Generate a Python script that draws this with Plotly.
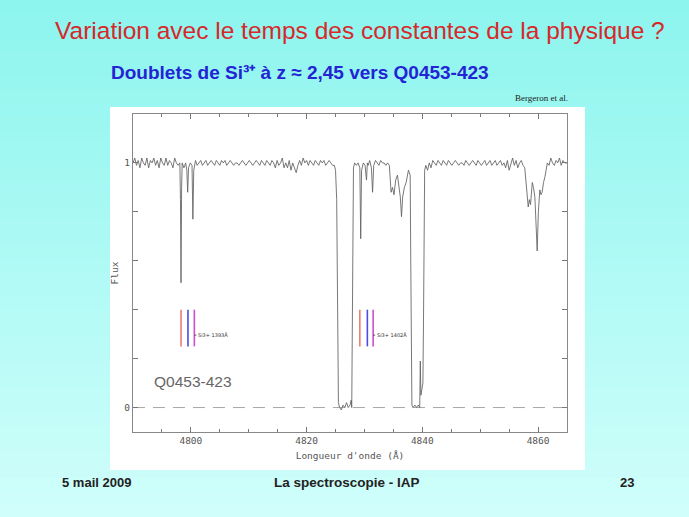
import plotly.graph_objects as go

# ---------------- data ----------------
wavelength = [
    4790.0, 4790.3, 4790.6, 4790.9, 4791.2, 4791.5, 4791.8, 4792.1, 4792.4, 4792.7,
    4793.0, 4793.3, 4793.6, 4793.9, 4794.2, 4794.5, 4794.8, 4795.1, 4795.4, 4795.7,
    4796.0, 4796.3, 4796.6, 4796.9, 4797.2, 4797.5, 4797.8, 4798.1, 4798.2, 4798.3,
    4798.4, 4798.5, 4798.8, 4799.1, 4799.3, 4799.45, 4799.6, 4799.9, 4800.2, 4800.35,
    4800.5, 4800.8, 4801.1, 4801.4, 4801.7, 4802.0, 4802.3, 4802.6, 4802.9, 4803.2,
    4803.5, 4803.8, 4804.1, 4804.4, 4804.7, 4805.0, 4805.3, 4805.6, 4805.9, 4806.2,
    4806.5, 4806.8, 4807.1, 4807.4, 4807.7, 4808.0, 4808.3, 4808.6, 4808.9, 4809.2,
    4809.5, 4809.8, 4810.1, 4810.4, 4810.7, 4811.0, 4811.3, 4811.6, 4811.9, 4812.2,
    4812.5, 4812.8, 4813.1, 4813.4, 4813.7, 4814.0, 4814.3, 4814.6, 4814.9, 4815.2,
    4815.5, 4815.8, 4816.1, 4816.4, 4816.7, 4817.0, 4817.3, 4817.6, 4817.9, 4818.2,
    4818.5, 4818.8, 4819.1, 4819.4, 4819.7, 4820.0, 4820.3, 4820.6, 4820.9, 4821.2,
    4821.5, 4821.8, 4822.1, 4822.4, 4822.7, 4823.0, 4823.3, 4823.6, 4823.9, 4824.2,
    4824.5, 4824.8, 4825.0, 4825.2, 4825.3, 4825.4, 4825.5, 4825.7, 4826.0, 4826.3,
    4826.6, 4826.9, 4827.2, 4827.5, 4827.7, 4827.8, 4827.9, 4828.0, 4828.1, 4828.3,
    4828.6, 4828.9, 4829.2, 4829.35, 4829.5, 4829.8, 4830.1, 4830.35, 4830.5, 4830.65,
    4830.9, 4831.2, 4831.4, 4831.6, 4831.9, 4832.2, 4832.5, 4832.8, 4833.1, 4833.4,
    4833.7, 4834.0, 4834.3, 4834.6, 4834.85, 4835.1, 4835.4, 4835.7, 4835.95, 4836.2,
    4836.4, 4836.6, 4836.9, 4837.2, 4837.6, 4837.9, 4838.0, 4838.1, 4838.2, 4838.4,
    4838.7, 4839.0, 4839.3, 4839.55, 4839.65, 4839.75, 4839.9, 4840.1, 4840.2, 4840.3,
    4840.4, 4840.6, 4840.9, 4841.2, 4841.5, 4841.8, 4842.1, 4842.4, 4842.7, 4843.0,
    4843.3, 4843.6, 4843.9, 4844.2, 4844.5, 4844.8, 4845.1, 4845.4, 4845.7, 4846.0,
    4846.3, 4846.6, 4846.9, 4847.2, 4847.5, 4847.8, 4848.1, 4848.4, 4848.7, 4849.0,
    4849.3, 4849.6, 4849.9, 4850.2, 4850.5, 4850.8, 4851.1, 4851.4, 4851.7, 4852.0,
    4852.3, 4852.6, 4852.9, 4853.2, 4853.5, 4853.8, 4854.1, 4854.4, 4854.7, 4855.0,
    4855.3, 4855.6, 4855.9, 4856.2, 4856.5, 4856.8, 4857.1, 4857.4, 4857.7, 4858.0,
    4858.3, 4858.5, 4858.7, 4859.0, 4859.2, 4859.45, 4859.65, 4859.85, 4860.05, 4860.3,
    4860.5, 4860.7, 4860.95, 4861.2, 4861.6, 4861.9, 4862.2, 4862.5, 4862.8, 4863.1,
    4863.4, 4863.7, 4864.0, 4864.3, 4864.6, 4865.0,
]
flux = [
    1.00, 1.02, 0.99, 1.01, 0.98, 1.02, 1.00, 0.99, 1.02, 0.98,
    1.01, 1.00, 1.02, 0.99, 1.01, 0.98, 1.02, 1.00, 0.99, 1.02,
    0.99, 1.01, 1.00, 0.98, 1.02, 1.00, 0.99, 1.00, 0.85, 0.51,
    0.90, 1.00, 0.98, 1.00, 0.97, 0.88, 0.98, 1.00, 0.99, 0.77,
    0.97, 1.01, 0.99, 1.00, 1.01, 0.99, 1.00, 1.01, 0.99, 1.00,
    1.01, 1.00, 0.99, 1.01, 1.00, 0.99, 1.01, 1.00, 1.01, 0.99,
    1.00, 1.01, 1.00, 0.99, 1.00, 1.00, 0.99, 1.00, 1.01, 1.00,
    0.99, 1.00, 1.01, 1.00, 0.99, 1.00, 1.01, 1.00, 0.99, 1.01,
    1.00, 0.99, 1.01, 1.00, 0.99, 1.01, 1.00, 0.98, 1.01, 0.99,
    1.00, 1.02, 0.98, 1.00, 0.98, 1.01, 0.97, 1.00, 0.98, 0.96,
    0.99, 1.01, 0.99, 1.02, 1.00, 1.01, 0.99, 1.01, 1.00, 0.99,
    1.01, 1.00, 0.99, 1.01, 1.00, 1.01, 0.99, 1.00, 1.01, 1.00,
    0.99, 0.99, 0.97, 0.85, 0.50, 0.15, 0.02, 0.00, -0.01, 0.01,
    0.00, 0.02, 0.00, 0.01, 0.03, 0.00, 0.30, 0.75, 0.98, 1.00,
    0.99, 1.00, 0.98, 0.69, 0.97, 1.00, 0.99, 0.93, 1.00, 0.99,
    1.01, 0.98, 0.88, 0.99, 1.01, 1.00, 0.99, 1.01, 1.00, 1.00,
    0.99, 1.00, 0.99, 0.88, 0.90, 0.87, 0.93, 0.95, 0.91, 0.86,
    0.78, 0.86, 0.90, 0.92, 0.97, 0.95, 0.60, 0.15, 0.01, 0.00,
    0.01, 0.00, 0.01, 0.00, 0.19, 0.05, 0.08, 0.10, 0.35, 0.70,
    0.97, 0.99, 0.97, 1.00, 0.98, 1.01, 1.00, 0.99, 1.01, 1.00,
    0.99, 1.01, 1.00, 0.99, 1.01, 1.00, 0.99, 1.00, 1.01, 1.00,
    0.99, 1.00, 1.00, 0.99, 1.01, 1.00, 0.99, 1.00, 1.01, 1.00,
    0.99, 1.01, 1.00, 0.99, 1.00, 1.01, 0.99, 1.00, 1.01, 0.99,
    1.00, 1.01, 0.99, 1.00, 1.01, 0.99, 1.00, 0.98, 1.01, 0.97,
    1.00, 1.02, 0.99, 1.01, 0.98, 1.00, 1.01, 0.99, 0.98, 0.90,
    0.82, 0.85, 0.83, 0.92, 0.90, 0.86, 0.75, 0.64, 0.80, 0.89,
    0.87, 0.88, 0.92, 0.945, 1.00, 0.99, 1.02, 1.00, 0.99, 1.01,
    1.00, 1.02, 0.99, 1.01, 1.00, 1.00,
]

# Si IV doublet marker positions (three velocity components each)
marker_groups = [
    [4798.3, 4799.5, 4800.6],
    [4829.2, 4830.5, 4831.5],
]
marker_labels = ["Si3+ 1393Å", "Si3+ 1402Å"]
marker_colors = ["#ec7a6c", "#4c4ce6", "#d24cd2"]
marker_y = [0.25, 0.40]
marker_label_y = 0.296

x_range = [4790, 4865]
y_range = [-0.1, 1.2]
x_major = [4800, 4820, 4840, 4860]
y_major = [0, 1]

title_text = "Variation avec le temps des constantes de la physique ?"
subtitle_text = "Doublets de Si³⁺ à z ≈ 2,45 vers Q0453-423"
credit_text = "Bergeron et al."
object_text = "Q0453-423"
footer_left = "5 mail 2009"
footer_mid = "La spectroscopie - IAP"
footer_right = "23"

# ---------------- layout geometry ----------------
W, H = 689, 517
L, T, R, B = 133, 114, 567, 432
PW, PH = R - L, B - T


def px(x):
    return (x - L) / PW


def py(y):
    return (B - y) / PH


fig = go.Figure()

# zero line (dashed)
fig.add_trace(go.Scatter(x=x_range, y=[0, 0], mode="lines",
                         line=dict(color="#a8a8a8", width=1, dash="12px,8px"),
                         hoverinfo="skip", showlegend=False))

# spectrum
fig.add_trace(go.Scatter(x=wavelength, y=flux, mode="lines",
                         line=dict(color="#606060", width=0.85),
                         showlegend=False))

# doublet markers
for grp, lab in zip(marker_groups, marker_labels):
    for w, c in zip(grp, marker_colors):
        fig.add_trace(go.Scatter(x=[w, w], y=marker_y, mode="lines",
                                 line=dict(color=c, width=1.6),
                                 hoverinfo="skip", showlegend=False))
    fig.add_trace(go.Scatter(x=[grp[-1], grp[-1] + 0.35], y=[marker_label_y] * 2,
                             mode="lines", line=dict(color="#333", width=0.8),
                             hoverinfo="skip", showlegend=False))
    fig.add_annotation(x=grp[-1] + 0.35, y=marker_label_y, text=lab, showarrow=False,
                       xanchor="left", yanchor="middle",
                       font=dict(family="DejaVu Sans", size=5, color="#333"))

fig.add_annotation(x=4793.2, y=0.105, text=object_text, showarrow=False,
                   xanchor="left", yanchor="middle",
                   font=dict(family="Liberation Sans", size=15.5, color="#666"))

# ---------------- background (vertical gradient + white panel) ----------------
shapes = []
nb = 40
c0 = (0x8d, 0xf5, 0xee)
c1 = (0xcf, 0xfe, 0xfb)
for i in range(nb):
    f = i / (nb - 1)
    col = "rgb(%d,%d,%d)" % tuple(round(a + (b - a) * f) for a, b in zip(c0, c1))
    y_top = i * H / nb
    y_bot = (i + 1) * H / nb + 1
    shapes.append(dict(type="rect", xref="paper", yref="paper", layer="below",
                       x0=px(-5), x1=px(W + 5), y0=py(y_bot), y1=py(y_top),
                       fillcolor=col, line=dict(width=0)))
shapes.append(dict(type="rect", xref="paper", yref="paper", layer="below",
                   x0=px(110), x1=px(585), y0=py(470), y1=py(107),
                   fillcolor="white", line=dict(width=0)))

mono = "DejaVu Sans Mono"
fig.update_layout(
    width=W, height=H,
    margin=dict(l=L, r=W - R, t=T, b=H - B),
    paper_bgcolor="#b0faf5",
    plot_bgcolor="white",
    shapes=shapes,
    showlegend=False,
    xaxis=dict(range=x_range, tickvals=x_major, ticks="inside", ticklen=5,
               tickcolor="#777", showline=True, linecolor="#888", linewidth=1,
               mirror="allticks", showgrid=False, zeroline=False,
               minor=dict(dtick=5, tick0=4790, ticks="inside", ticklen=3, tickcolor="#777"),
               tickfont=dict(family=mono, size=9.5, color="#555"),
               title=dict(text="Longueur d'onde (Å)", standoff=6,
                          font=dict(family=mono, size=9.5, color="#555"))),
    yaxis=dict(range=y_range, tickvals=y_major, ticks="inside",
               ticklen=5, tickcolor="#777", showline=True, linecolor="#888",
               linewidth=1, mirror="allticks", showgrid=False, zeroline=False,
               minor=dict(dtick=0.2, tick0=0, ticks="inside", ticklen=5, tickcolor="#777"),
               tickfont=dict(family=mono, size=9.5, color="#555"),
               title=dict(text="Flux", standoff=4,
                          font=dict(family=mono, size=9.5, color="#555"))),
)

texts = [
    (title_text, 360, 30, "center", dict(family="Liberation Sans", size=24.5, color="#d8282a")),
    (subtitle_text, 300, 72, "center", dict(family="Liberation Sans", size=19, color="#2424d4", weight="bold")),
    (credit_text, 541, 98, "center", dict(family="Liberation Serif", size=9, color="#222")),
    (footer_left, 60, 482, "left", dict(family="Liberation Sans", size=13, color="#222", weight="bold")),
    (footer_mid, 347, 482, "center", dict(family="Liberation Sans", size=13.5, color="#222", weight="bold")),
    (footer_right, 636, 482, "right", dict(family="Liberation Sans", size=13, color="#222", weight="bold")),
]
for t, x, y, xa, fnt in texts:
    fig.add_annotation(xref="paper", yref="paper", x=px(x), y=py(y), text=t,
                       showarrow=False, xanchor=xa, yanchor="middle", font=fnt)

fig.write_html("out.html", config={"displayModeBar": False},
               post_script="document.body.style.margin='0';document.body.style.overflow='hidden';")
